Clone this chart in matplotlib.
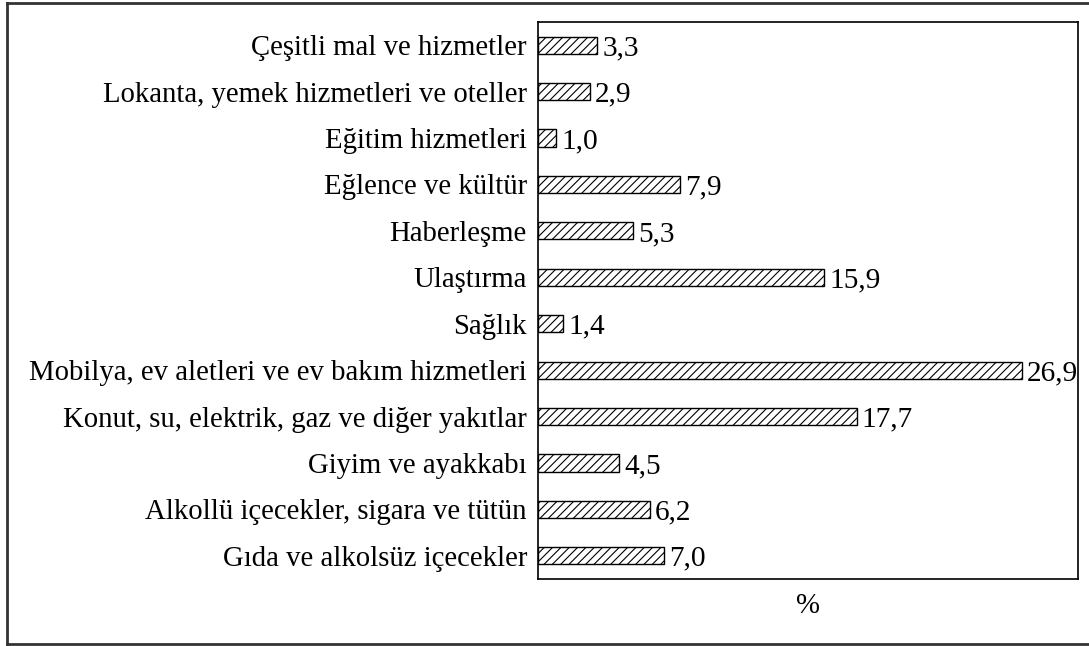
import matplotlib
matplotlib.use("Agg")
import matplotlib.pyplot as plt
from matplotlib.lines import Line2D

categories = [
    "Çeşitli mal ve hizmetler",
    "Lokanta, yemek hizmetleri ve oteller",
    "Eğitim hizmetleri",
    "Eğlence ve kültür",
    "Haberleşme",
    "Ulaştırma",
    "Sağlık",
    "Mobilya, ev aletleri ve ev bakım hizmetleri",
    "Konut, su, elektrik, gaz ve diğer yakıtlar",
    "Giyim ve ayakkabı",
    "Alkollü içecekler, sigara ve tütün",
    "Gıda ve alkolsüz içecekler",
]
values = [3.3, 2.9, 1.0, 7.9, 5.3, 15.9, 1.4, 26.9, 17.7, 4.5, 6.2, 7.0]
value_labels = ["3,3", "2,9", "1,0", "7,9", "5,3", "15,9", "1,4", "26,9", "17,7", "4,5", "6,2", "7,0"]

plt.rcParams['font.family'] = ['Liberation Serif', 'DejaVu Serif']
plt.rcParams['hatch.linewidth'] = 0.8
plt.rcParams['hatch.color'] = '#222222'

FS_LAB = 20.7
FS_VAL = 21.2
fig = plt.figure(figsize=(10.89, 6.46), dpi=100)
ax = fig.add_axes([538/1089, 1-579/646, 540/1089, 557/646])

ypos = list(range(len(categories)))
bars = ax.barh(ypos, values, height=0.37, color='white', edgecolor='black',
               linewidth=1.0, hatch='////')
for b, lab in zip(bars, value_labels):
    ax.text(b.get_width() + 0.28, b.get_y() + b.get_height()/2, lab,
            va='center_baseline', ha='left', fontsize=FS_VAL)

ax.set_xlim(0, 30)
ax.set_ylim(len(categories) - 0.5, -0.5)
ax.set_yticks(ypos)
ax.set_yticklabels(categories, fontsize=FS_LAB)
ax.tick_params(axis='y', length=0, pad=8)
ax.set_xticks([])
ax.set_xlabel('%', fontsize=FS_LAB, labelpad=10)
for s in ax.spines.values():
    s.set_linewidth(1.2)
    s.set_color('black')

# outer border
W, H = 1089, 646
x0, y0, y1 = 7/W, 1-644/H, 1-3/H
for xs, ys in [([x0, x0], [y0, y1]), ([x0, 1.01], [y1, y1]), ([x0, 1.01], [y0, y0])]:
    fig.add_artist(Line2D(xs, ys, transform=fig.transFigure, color='#333333', linewidth=2))

fig.savefig('out.png', dpi=100)
